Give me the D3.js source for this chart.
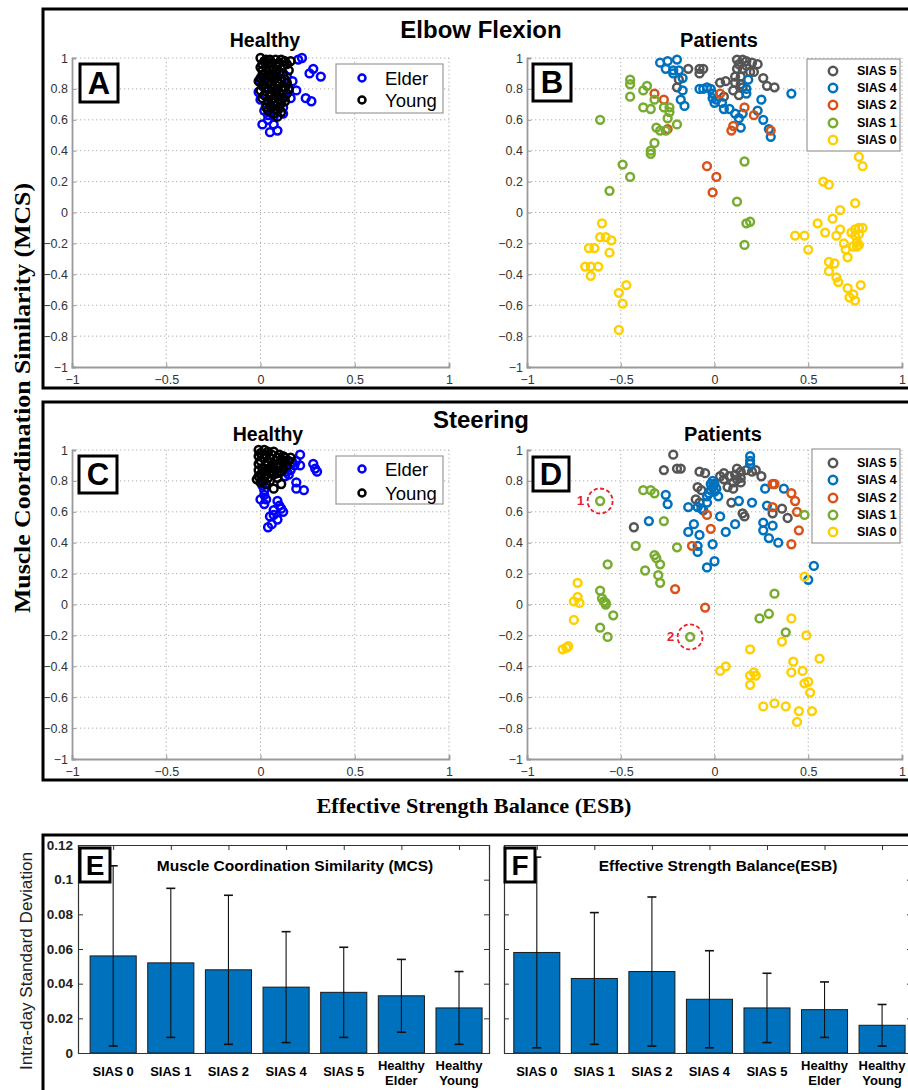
<!DOCTYPE html>
<html>
<head>
<meta charset="utf-8">
<script src="https://cdn.jsdelivr.net/npm/d3@7"></script>
<style>
  body { margin: 0; background: #fff; }
  text { font-family: "Liberation Sans", Arial, sans-serif; }
</style>
</head>
<body>
<script>
// ---- data ----
let scatterXTicks = [-1, -0.5, 0, 0.5, 1];
let scatterYTicks = [-1, -0.8, -0.6, -0.4, -0.2, 0, 0.2, 0.4, 0.6, 0.8, 1];

let elbowElder = [[0.20,0.99],[0.22,1.00],[0.28,0.93],[0.26,0.90],[0.32,0.88],[0.17,0.85],[0.15,0.79],[0.19,0.79],[0.16,0.74],[0.24,0.74],[0.27,0.72],[-0.01,0.78],[0.00,0.73],[0.02,0.66],[0.04,0.63],[0.01,0.57],[0.07,0.57],[0.05,0.52],[0.09,0.53],[0.01,0.89],[0.02,0.83],[0.11,0.73],[0.12,0.68],[0.09,0.92],[0.04,0.60],[0.13,0.75],[0.12,0.64],[0.00,0.84],[0.03,0.70],[0.06,0.68],[0.10,0.83],[0.14,0.88],[0.07,0.62]];
let elbowYoung = [[0.00,1.00],[0.03,0.99],[0.05,0.99],[0.08,0.99],[0.11,0.99],[0.13,0.98],[0.16,0.98],[0.04,0.96],[0.06,0.95],[0.09,0.96],[0.01,0.92],[0.04,0.89],[0.06,0.89],[0.10,0.91],[0.02,0.86],[0.04,0.85],[0.07,0.86],[0.11,0.86],[0.14,0.84],[0.01,0.82],[0.04,0.80],[0.06,0.80],[0.09,0.80],[0.12,0.79],[0.02,0.76],[0.05,0.76],[0.09,0.75],[0.12,0.74],[0.04,0.72],[0.07,0.71],[0.11,0.71],[0.04,0.66],[0.10,0.68],[0.09,0.62],[0.14,0.77],[0.01,0.96],[0.07,0.93],[0.12,0.95],[0.03,0.94],[0.08,0.88],[0.00,0.79],[0.07,0.74],[0.05,0.69],[0.09,0.66],[0.13,0.81],[0.02,0.89],[0.06,0.83],
  [0.02,0.98],[0.06,0.97],[0.10,0.97],[0.14,0.96],[0.00,0.94],[0.05,0.92],[0.08,0.91],[0.12,0.90],[0.15,0.92],[0.03,0.87],[0.09,0.84],[0.13,0.86],[0.00,0.87],[0.03,0.81],[0.08,0.78],[0.10,0.77],[0.01,0.74],[0.06,0.73],[0.13,0.72],[0.08,0.69],[0.03,0.68],[0.11,0.65],[0.07,0.64],[0.15,0.80],[-0.01,0.85],[0.05,0.88]];
let steerElder = [[0.21,0.97],[0.19,0.93],[0.18,0.90],[0.21,0.90],[0.16,0.87],[0.13,0.83],[0.14,0.86],[0.28,0.91],[0.29,0.88],[0.30,0.86],[0.19,0.79],[0.19,0.75],[0.23,0.74],[0.01,0.77],[0.02,0.74],[0.00,0.68],[0.02,0.65],[0.03,0.68],[0.09,0.67],[0.10,0.64],[0.07,0.61],[0.12,0.60],[0.05,0.57],[0.09,0.55],[0.06,0.52],[0.04,0.50],[0.11,0.62],[0.15,0.84],[0.17,0.92],[0.07,0.58],[0.02,0.71]];
let steerYoung = [[-0.01,1.00],[0.02,1.00],[0.04,0.99],[0.07,0.99],[0.10,0.97],[0.12,0.96],[0.15,0.93],[-0.01,0.96],[0.02,0.95],[0.05,0.95],[0.08,0.93],[0.12,0.92],[0.14,0.90],[-0.01,0.91],[0.03,0.90],[0.06,0.90],[0.10,0.89],[0.12,0.88],[-0.01,0.87],[0.02,0.86],[0.05,0.86],[0.09,0.85],[-0.01,0.83],[0.02,0.82],[0.04,0.82],[0.00,0.79],[0.03,0.78],[0.07,0.75],[0.11,0.78],[0.07,0.88],
  [0.00,0.98],[0.03,0.97],[0.06,0.97],[0.09,0.95],[0.11,0.94],[0.13,0.95],[0.16,0.95],[0.00,0.93],[0.04,0.92],[0.07,0.91],[0.10,0.91],[0.13,0.93],[0.01,0.88],[0.04,0.88],[0.08,0.87],[0.11,0.86],[0.00,0.84],[0.03,0.84],[0.07,0.84],[0.01,0.80],[0.05,0.80],[-0.02,0.81],[0.09,0.82]];

let elbowS5 = [[-0.14,0.93],[-0.08,0.93],[-0.06,0.93],[-0.08,0.90],[-0.19,0.86],[-0.20,0.81],[0.03,0.84],[0.06,0.85],[0.05,0.75],[0.12,0.99],[0.15,0.99],[0.17,0.98],[0.20,0.97],[0.23,0.96],[0.12,0.93],[0.15,0.93],[0.19,0.91],[0.11,0.88],[0.14,0.88],[0.11,0.84],[0.14,0.83],[0.10,0.79],[0.13,0.76],[0.26,0.87],[0.28,0.82],[0.32,0.81],[0.21,0.91],[0.15,0.81],[0.17,0.95],[0.13,0.96]];
let elbowS4 = [[-0.29,0.97],[-0.25,0.98],[-0.20,0.99],[-0.26,0.93],[-0.22,0.92],[-0.19,0.92],[-0.22,0.90],[-0.17,0.87],[-0.17,0.79],[-0.18,0.73],[-0.16,0.69],[-0.08,0.80],[-0.04,0.81],[-0.02,0.80],[-0.01,0.77],[-0.01,0.74],[0.01,0.73],[0.04,0.71],[0.05,0.67],[0.08,0.67],[0.11,0.64],[0.13,0.61],[0.14,0.55],[0.18,0.86],[0.17,0.80],[0.17,0.77],[0.25,0.73],[0.23,0.66],[0.26,0.60],[0.29,0.54],[0.30,0.49],[0.41,0.77],[0.15,0.64],[-0.06,0.80],[0.00,0.71]];
let elbowS2 = [[-0.32,0.77],[-0.27,0.73],[-0.25,0.54],[0.03,0.77],[0.16,0.68],[0.21,0.63],[0.10,0.56],[0.09,0.53],[0.30,0.53],[-0.04,0.30],[0.01,0.23],[-0.01,0.13]];
let elbowS1 = [[-0.61,0.60],[-0.45,0.86],[-0.45,0.83],[-0.45,0.75],[-0.38,0.79],[-0.36,0.82],[-0.38,0.68],[-0.34,0.67],[-0.32,0.73],[-0.27,0.68],[-0.24,0.68],[-0.24,0.65],[-0.25,0.61],[-0.20,0.57],[-0.31,0.55],[-0.29,0.53],[-0.26,0.53],[-0.32,0.45],[-0.34,0.40],[-0.34,0.38],[-0.49,0.31],[-0.45,0.23],[-0.56,0.14],[0.16,0.33],[0.12,0.07],[0.17,-0.07],[0.19,-0.06],[0.16,-0.21]];
let elbowS0 = [[0.77,0.36],[0.79,0.30],[0.58,0.20],[0.61,0.18],[0.75,0.06],[0.67,0.015],[0.63,-0.04],[0.55,-0.07],[0.59,-0.13],[0.67,-0.11],[0.65,-0.15],[0.69,-0.20],[0.70,-0.24],[0.71,-0.29],[0.43,-0.15],[0.48,-0.15],[0.50,-0.24],[0.61,-0.32],[0.64,-0.33],[0.61,-0.38],[0.65,-0.42],[0.66,-0.45],[0.71,-0.49],[0.72,-0.55],[0.75,-0.57],[0.74,-0.53],[0.78,-0.47],[0.75,-0.11],[0.77,-0.10],[0.79,-0.10],[0.75,-0.15],[0.77,-0.14],[0.76,-0.19],[0.76,-0.22],[0.74,-0.22],[0.77,-0.21],[0.73,-0.13],[-0.60,-0.07],[-0.61,-0.16],[-0.58,-0.16],[-0.55,-0.18],[-0.56,-0.26],[-0.67,-0.23],[-0.64,-0.23],[-0.69,-0.35],[-0.66,-0.35],[-0.62,-0.35],[-0.66,-0.41],[-0.51,-0.52],[-0.47,-0.47],[-0.49,-0.59],[-0.51,-0.76]];

let steerS5 = [[-0.22,0.97],[-0.27,0.87],[-0.20,0.88],[-0.18,0.88],[-0.08,0.86],[-0.05,0.85],[-0.09,0.76],[-0.07,0.74],[-0.10,0.68],[-0.08,0.66],[-0.43,0.50],[0.03,0.83],[0.05,0.81],[0.08,0.83],[0.11,0.84],[0.14,0.86],[0.10,0.79],[0.14,0.79],[0.07,0.76],[0.10,0.75],[0.05,0.85],[0.12,0.88],[0.17,0.87],[0.20,0.86],[0.22,0.87],[0.25,0.83],[0.14,0.82],[0.09,0.66],[0.15,0.59],[0.16,0.57],[0.36,0.62],[0.39,0.56],[0.31,0.59],[0.12,0.81]];
let steerS4 = [[0.19,0.96],[0.19,0.93],[0.19,0.91],[-0.01,0.80],[-0.02,0.78],[-0.01,0.76],[0.00,0.73],[-0.02,0.74],[0.00,0.78],[-0.03,0.72],[-0.26,0.71],[-0.25,0.65],[-0.35,0.54],[-0.14,0.63],[-0.11,0.52],[-0.09,0.63],[-0.06,0.61],[-0.04,0.66],[0.02,0.70],[0.03,0.57],[-0.14,0.47],[-0.08,0.45],[-0.09,0.38],[-0.09,0.34],[-0.01,0.39],[0.00,0.28],[-0.04,0.24],[0.06,0.47],[0.11,0.52],[0.13,0.67],[0.20,0.66],[0.27,0.75],[0.28,0.64],[0.26,0.53],[0.26,0.48],[0.31,0.51],[0.29,0.43],[0.34,0.40],[0.37,0.75],[0.53,0.25],[0.50,0.16],[-0.04,0.70],[-0.07,0.62],[0.01,0.75]];
let steerS2 = [[0.31,0.78],[0.32,0.78],[0.31,0.63],[0.41,0.72],[0.43,0.67],[0.44,0.60],[0.45,0.48],[0.41,0.39],[-0.04,0.58],[-0.02,0.49],[-0.12,0.38],[-0.21,0.10],[-0.05,-0.02]];
let steerS1 = [[-0.61,0.67],[-0.38,0.74],[-0.34,0.74],[-0.32,0.72],[-0.27,0.54],[-0.42,0.38],[-0.32,0.32],[-0.31,0.30],[-0.29,0.26],[-0.37,0.22],[-0.30,0.19],[-0.29,0.14],[-0.20,0.37],[-0.57,0.26],[0.48,0.58],[0.32,0.07],[-0.61,0.09],[-0.60,0.04],[-0.59,0.02],[-0.58,0.00],[-0.58,0.01],[-0.54,-0.07],[-0.61,-0.15],[-0.57,-0.21],[-0.13,-0.21],[0.24,-0.09],[0.29,-0.06],[0.38,-0.18]];
let steerS0 = [[-0.73,0.14],[0.48,0.18],[-0.73,0.05],[-0.75,0.02],[-0.72,0.01],[-0.75,-0.10],[-0.81,-0.29],[-0.79,-0.28],[-0.78,-0.27],[0.41,-0.09],[0.49,-0.20],[0.36,-0.24],[0.19,-0.29],[0.42,-0.37],[0.56,-0.35],[0.03,-0.43],[0.06,-0.40],[0.19,-0.46],[0.21,-0.44],[0.22,-0.46],[0.19,-0.52],[0.41,-0.44],[0.47,-0.43],[0.48,-0.51],[0.50,-0.50],[0.51,-0.57],[0.26,-0.66],[0.32,-0.64],[0.38,-0.66],[0.45,-0.69],[0.52,-0.69],[0.44,-0.76]];
let steerMarked = [[-0.61, 0.67, "1"], [-0.13, -0.21, "2"]];

let healthyNames = ["Elder", "Young"];
let healthyColors = ["#0000ff", "#000000"];
let patientNames = ["SIAS 5", "SIAS 4", "SIAS 2", "SIAS 1", "SIAS 0"];
let patientColors = ["#555555", "#0072bd", "#d95319", "#77ac30", "#ffd000"];

let barGroups = ["SIAS 0", "SIAS 1", "SIAS 2", "SIAS 4", "SIAS 5", "Healthy Elder", "Healthy Young"];
let mcsMean = [0.056, 0.052, 0.048, 0.038, 0.035, 0.033, 0.026];
let mcsSd = [0.052, 0.043, 0.043, 0.032, 0.026, 0.021, 0.021];
let esbMean = [0.058, 0.043, 0.047, 0.031, 0.026, 0.025, 0.016];
let esbSd = [0.055, 0.038, 0.043, 0.028, 0.020, 0.016, 0.012];
let barYTicks = [0, 0.02, 0.04, 0.06, 0.08, 0.1, 0.12];

// ---- drawing ----
let svg = d3.select("body").append("svg")
  .attr("width", 908)
  .attr("height", 1090);

let fmt = d3.format("~g");

// outer frames
svg.append("rect").attr("x", 43).attr("y", 9).attr("width", 880).attr("height", 379)
  .attr("fill", "none").attr("stroke", "#000").attr("stroke-width", 3);
svg.append("rect").attr("x", 43).attr("y", 402).attr("width", 880).attr("height", 378)
  .attr("fill", "none").attr("stroke", "#000").attr("stroke-width", 3);
svg.append("rect").attr("x", 43).attr("y", 835).attr("width", 880).attr("height", 300)
  .attr("fill", "none").attr("stroke", "#000").attr("stroke-width", 3);

function labelBox(x, y, w, h, letter, fs) {
  svg.append("rect").attr("x", x).attr("y", y).attr("width", w).attr("height", h)
    .attr("fill", "#fff").attr("stroke", "#000").attr("stroke-width", 3);
  svg.append("text").attr("x", x + w / 2).attr("y", y + h / 2)
    .attr("text-anchor", "middle").attr("dominant-baseline", "central")
    .attr("font-size", fs).attr("font-weight", "bold").text(letter);
}

function scatterPanel(left, right, top, bottom) {
  let x = d3.scaleLinear().domain([-1, 1]).range([left, right]);
  let y = d3.scaleLinear().domain([-1, 1]).range([bottom, top]);
  let g = svg.append("g");
  // dotted grid
  g.selectAll(".gx").data(scatterXTicks.slice(1)).enter().append("line")
    .attr("x1", d => x(d)).attr("x2", d => x(d)).attr("y1", y(-1)).attr("y2", y(1))
    .attr("stroke", "#b0b0b0").attr("stroke-dasharray", "1.3,2.7");
  g.selectAll(".gy").data(scatterYTicks.slice(1)).enter().append("line")
    .attr("x1", x(-1)).attr("x2", x(1)).attr("y1", d => y(d)).attr("y2", d => y(d))
    .attr("stroke", "#b0b0b0").attr("stroke-dasharray", "1.3,2.7");
  let ax = g.append("g").attr("transform", "translate(0," + bottom + ")")
    .call(d3.axisBottom(x).tickValues(scatterXTicks).tickFormat(fmt).tickSize(-4).tickPadding(8));
  let ay = g.append("g").attr("transform", "translate(" + left + ",0)")
    .call(d3.axisLeft(y).tickValues(scatterYTicks).tickFormat(fmt).tickSize(-4).tickPadding(4));
  [ax, ay].forEach(a => {
    a.select(".domain").attr("stroke", "#9a9a9a").attr("stroke-width", 1.8);
    a.selectAll(".tick line").attr("stroke", "#9a9a9a");
    a.selectAll("text").attr("font-size", 12.5).attr("fill", "#333")
      .attr("font-family", "'Liberation Sans', Arial, sans-serif");
  });
  return { x, y, g };
}

function drawPoints(p, series, colors) {
  series.forEach((pts, k) => {
    p.g.append("g").selectAll("circle").data(pts).enter().append("circle")
      .attr("cx", d => p.x(d[0])).attr("cy", d => p.y(d[1])).attr("r", 3.9)
      .attr("fill", "none").attr("stroke", colors[k]).attr("stroke-width", 2.5);
  });
}

function legend(x, y, w, h, names, colors, rowY, mx, tx, fs, bold) {
  svg.append("rect").attr("x", x).attr("y", y).attr("width", w).attr("height", h)
    .attr("fill", "#fff").attr("stroke", "#9a9a9a").attr("stroke-width", 1.2);
  names.forEach((n, i) => {
    svg.append("circle").attr("cx", mx).attr("cy", rowY[i]).attr("r", bold ? 4.2 : 3.5)
      .attr("fill", "none").attr("stroke", colors[i]).attr("stroke-width", 2.5);
    svg.append("text").attr("x", tx).attr("y", rowY[i]).attr("dominant-baseline", "central")
      .attr("font-size", fs).attr("font-weight", bold ? "bold" : "normal").text(n);
  });
}

function title(x, y, s, fs) {
  svg.append("text").attr("x", x).attr("y", y).attr("text-anchor", "middle")
    .attr("font-size", fs).attr("font-weight", "bold").text(s);
}

// Elbow flexion row
title(481, 38, "Elbow Flexion", 24);
title(265, 47, "Healthy", 19.5);
title(719, 47, "Patients", 20);
let pA = scatterPanel(72, 449, 58, 367);
drawPoints(pA, [elbowElder, elbowYoung], healthyColors);
let pB = scatterPanel(527, 902, 58, 367);
drawPoints(pB, [elbowS5, elbowS4, elbowS2, elbowS1, elbowS0], patientColors);
labelBox(80, 64, 38, 38, "A", 31);
labelBox(533, 64, 38, 37, "B", 31);
legend(336, 64, 107, 49, healthyNames, healthyColors, [78, 100], 362, 385, 18.5, false);
legend(807, 59, 93, 92, patientNames, patientColors, [71, 88, 105, 123, 140], 833, 857, 12.5, true);

// Steering row
title(481, 428, "Steering", 24);
title(268, 441, "Healthy", 19.5);
title(723, 441, "Patients", 20);
let pC = scatterPanel(72, 449, 450, 759);
drawPoints(pC, [steerElder, steerYoung], healthyColors);
let pD = scatterPanel(527, 902, 450, 759);
drawPoints(pD, [steerS5, steerS4, steerS2, steerS1, steerS0], patientColors);
labelBox(79, 456, 38, 37, "C", 31);
labelBox(533, 457, 36, 34, "D", 31);
legend(336, 456, 107, 48, healthyNames, healthyColors, [469, 493], 362, 385, 18.5, false);
legend(812, 449, 88, 94, patientNames, patientColors, [463, 480, 498, 515, 532], 833, 857, 12.5, true);

steerMarked.forEach(m => {
  svg.append("circle").attr("cx", pD.x(m[0])).attr("cy", pD.y(m[1])).attr("r", 12.5)
    .attr("fill", "none").attr("stroke", "#e8202a").attr("stroke-width", 1.8)
    .attr("stroke-dasharray", "4,2.5");
  svg.append("text").attr("x", pD.x(m[0]) - 16).attr("y", pD.y(m[1]))
    .attr("text-anchor", "end").attr("dominant-baseline", "central")
    .attr("font-size", 13).attr("font-weight", "bold").attr("fill", "#e8202a").text(m[2]);
});

// shared axis titles
svg.append("text").attr("transform", "translate(22,398) rotate(-90)")
  .attr("text-anchor", "middle").attr("dominant-baseline", "central")
  .attr("font-weight", "bold")
  .attr("font-size", 23).attr("textLength", 430).attr("lengthAdjust", "spacingAndGlyphs")
  .style("font-family", "'Liberation Serif', 'DejaVu Serif', serif")
  .text("Muscle Coordination Similarity (MCS)");
svg.append("text").attr("x", 474).attr("y", 813).attr("text-anchor", "middle")
  .attr("font-weight", "bold").attr("font-size", 22)
  .attr("textLength", 315).attr("lengthAdjust", "spacingAndGlyphs")
  .style("font-family", "'Liberation Serif', 'DejaVu Serif', serif")
  .text("Effective Strength Balance (ESB)");

// ---- bar panels ----
function barPanel(left, right, domainLo, domainHi, means, sds, showYLabels, panelTitle, titleX) {
  let x = d3.scaleLinear().domain([domainLo, domainHi]).range([left, right]);
  let y = d3.scaleLinear().domain([0, 0.12]).range([1053, 845]);
  let g = svg.append("g");
  let step = x(2) - x(1);
  let bw = step * 0.8;
  g.selectAll("rect.bar").data(means).enter().append("rect")
    .attr("x", (d, i) => x(i + 1) - bw / 2).attr("y", d => y(d))
    .attr("width", bw).attr("height", d => y(0) - y(d))
    .attr("fill", "#0072bd").attr("stroke", "#1a1a1a").attr("stroke-width", 1);
  // error bars
  let eb = g.selectAll("g.err").data(means).enter().append("g");
  eb.append("line").attr("x1", (d, i) => x(i + 1)).attr("x2", (d, i) => x(i + 1))
    .attr("y1", (d, i) => y(d - sds[i])).attr("y2", (d, i) => y(d + sds[i]))
    .attr("stroke", "#111").attr("stroke-width", 1.1);
  [-1, 1].forEach(s => {
    eb.append("line").attr("x1", (d, i) => x(i + 1) - 4.5).attr("x2", (d, i) => x(i + 1) + 4.5)
      .attr("y1", (d, i) => y(d + s * sds[i])).attr("y2", (d, i) => y(d + s * sds[i]))
      .attr("stroke", "#111").attr("stroke-width", 1.6);
  });
  // axes box
  let ay = g.append("g").attr("transform", "translate(" + left + ",0)")
    .call(d3.axisLeft(y).tickValues(barYTicks).tickFormat(showYLabels ? fmt : "").tickSize(-5).tickPadding(5));
  let ay2 = g.append("g").attr("transform", "translate(" + right + ",0)")
    .call(d3.axisRight(y).tickValues(barYTicks).tickFormat("").tickSize(-5));
  let ax = g.append("g").attr("transform", "translate(0,1053)")
    .call(d3.axisBottom(x).tickValues(d3.range(1, means.length + 1)).tickFormat("").tickSize(0));
  let ax2 = g.append("g").attr("transform", "translate(0,845)")
    .call(d3.axisTop(x).tickValues(d3.range(1, means.length + 1)).tickFormat("").tickSize(-5));
  [ay, ay2, ax, ax2].forEach(a => {
    a.select(".domain").attr("stroke", "#333").attr("stroke-width", 1.2);
    a.selectAll(".tick line").attr("stroke", "#333");
  });
  ay.selectAll("text").attr("font-size", 13.5).attr("font-weight", "bold").attr("fill", "#222")
    .attr("font-family", "'Liberation Sans', Arial, sans-serif");
  // category labels
  barGroups.forEach((c, i) => {
    let parts = c.split(" ");
    if (c.startsWith("Healthy")) {
      g.append("text").attr("x", x(i + 1)).attr("y", 1070).attr("text-anchor", "middle")
        .attr("font-size", 13).attr("font-weight", "bold").text(parts[0]);
      g.append("text").attr("x", x(i + 1)).attr("y", 1085).attr("text-anchor", "middle")
        .attr("font-size", 13).attr("font-weight", "bold").text(parts[1]);
    } else {
      g.append("text").attr("x", x(i + 1)).attr("y", 1076).attr("text-anchor", "middle")
        .attr("font-size", 13).attr("font-weight", "bold").text(c);
    }
  });
  title(titleX, 871, panelTitle, 15.5);
}

barPanel(78, 489, 0.39, 7.52, mcsMean, mcsSd, true, "Muscle Coordination Similarity (MCS)", 295);
barPanel(504, 912, 0.43, 7.52, esbMean, esbSd, false, "Effective Strength Balance(ESB)", 718);
labelBox(80, 848, 30, 34, "E", 28);
labelBox(505, 848, 30, 34, "F", 28);

svg.append("text").attr("transform", "translate(26,961) rotate(-90)")
  .attr("text-anchor", "middle").attr("dominant-baseline", "central")
  .attr("font-size", 16.5).attr("fill", "#222")
  .attr("textLength", 218).attr("lengthAdjust", "spacingAndGlyphs")
  .text("Intra-day Standard Deviation");
</script>
</body>
</html>
